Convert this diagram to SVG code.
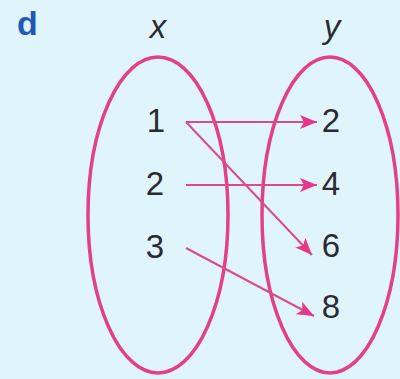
<svg xmlns="http://www.w3.org/2000/svg" width="400" height="379" viewBox="0 0 400 379">
<style>
.set{fill:none;stroke:#e2418a;stroke-width:3.5}
.num{font-family:"Liberation Sans",Arial,sans-serif;font-size:33px;fill:#2b2b33;text-anchor:middle}
.var{font-family:"Liberation Sans",Arial,sans-serif;font-size:33px;font-style:italic;fill:#2b2b33;text-anchor:middle}
.arr{fill:none;stroke:#dc4a8c;stroke-width:2;marker-end:url(#ah)}
</style>
<defs>
<marker id="ah" markerUnits="userSpaceOnUse" markerWidth="18" markerHeight="16" refX="17" refY="7" orient="auto">
<path d="M0,0 L17,7 L0,14 L4,7 Z" fill="#e6388a"/>
</marker>
</defs>
<rect width="400" height="379" fill="#e0f4fc"/>
<text x="17" y="35" font-family="Liberation Sans,Arial,sans-serif" font-size="34" font-weight="bold" fill="#1f5bb5">d</text>
<text class="var" x="158" y="38">x</text>
<text class="var" x="332" y="38">y</text>
<g id="setX">
<ellipse class="set" cx="158" cy="215" rx="70" ry="158"/>
<text class="num" x="156" y="132">1</text>
<text class="num" x="155" y="195">2</text>
<text class="num" x="155" y="258">3</text>
</g>
<g id="setY">
<ellipse class="set" cx="330" cy="215" rx="68" ry="158"/>
<text class="num" x="331" y="132">2</text>
<text class="num" x="331" y="195">4</text>
<text class="num" x="331" y="257">6</text>
<text class="num" x="331" y="318">8</text>
</g>
<g id="connectors">
<line class="arr" x1="186" y1="122" x2="317" y2="122"/>
<line class="arr" x1="186" y1="122" x2="312" y2="255"/>
<line class="arr" x1="186" y1="185" x2="317" y2="185"/>
<line class="arr" x1="186" y1="248" x2="314" y2="316"/>
</g>
</svg>
